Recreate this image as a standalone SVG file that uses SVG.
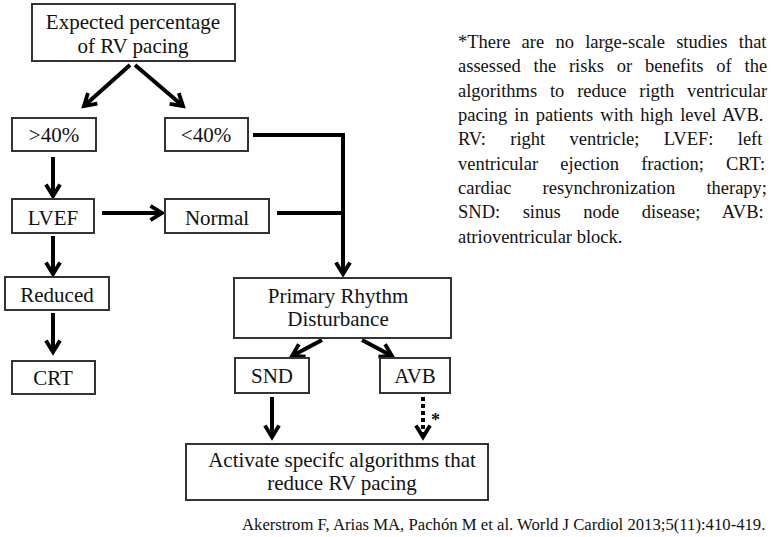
<svg xmlns="http://www.w3.org/2000/svg" width="771" height="537" viewBox="0 0 771 537">
<style>
.box{fill:#fff;stroke:#333;stroke-width:2}
.t{font-family:Liberation Serif, Times New Roman, serif;font-size:21px;fill:#111;text-anchor:middle}
.n{font-family:Liberation Serif, Times New Roman, serif;font-size:18.5px;fill:#111}
.c{stroke:#000;stroke-width:4;fill:none}
.d{stroke:#000;stroke-width:4;fill:none;stroke-dasharray:4 3}
</style>
<defs>
<marker id="ah" viewBox="0 0 14 14" refX="11" refY="7" markerWidth="18" markerHeight="18" markerUnits="userSpaceOnUse" orient="auto">
<path d="M2,1.5 L11,7 L2,12.5" fill="none" stroke="#000" stroke-width="3" stroke-linejoin="miter"/>
</marker>
</defs>
<rect width="771" height="537" fill="#fff"/>
<g id="connectors">
<line class="c" x1="130" y1="65" x2="84" y2="106" marker-end="url(#ah)"/>
<line class="c" x1="135" y1="65" x2="183" y2="106" marker-end="url(#ah)"/>
<line class="c" x1="53" y1="157" x2="53" y2="196" marker-end="url(#ah)"/>
<line class="c" x1="102" y1="213" x2="162" y2="213" marker-end="url(#ah)"/>
<line class="c" x1="53" y1="236" x2="53" y2="274" marker-end="url(#ah)"/>
<line class="c" x1="53" y1="313" x2="53" y2="352" marker-end="url(#ah)"/>
<path class="c" d="M253,135 H343 V274" marker-end="url(#ah)"/>
<path class="c" d="M277,213 H343"/>
<line class="c" x1="322" y1="340" x2="292" y2="356" marker-end="url(#ah)"/>
<line class="c" x1="362" y1="340" x2="392" y2="356" marker-end="url(#ah)"/>
<line class="c" x1="272" y1="397" x2="272" y2="437" marker-end="url(#ah)"/>
<line class="d" x1="423" y1="397" x2="423" y2="437" marker-end="url(#ah)"/>
<text x="431" y="426" font-family="Liberation Serif, serif" font-size="18" font-weight="bold" fill="#111">*</text>
</g>
<g id="expected">
<rect class="box" x="32" y="4" width="203" height="57"/>
<text class="t" x="133" y="29">Expected percentage</text>
<text class="t" x="133" y="53">of RV pacing</text>
</g>
<g id="gt40">
<rect class="box" x="12" y="118" width="84" height="33"/>
<text class="t" x="54" y="142">&gt;40%</text>
</g>
<g id="lt40">
<rect class="box" x="165" y="118" width="83" height="33"/>
<text class="t" x="206" y="142">&lt;40%</text>
</g>
<g id="lvef">
<rect class="box" x="12" y="199" width="82" height="34"/>
<text class="t" x="53" y="225">LVEF</text>
</g>
<g id="normal">
<rect class="box" x="165" y="199" width="104" height="34"/>
<text class="t" x="217" y="225">Normal</text>
</g>
<g id="reduced">
<rect class="box" x="5" y="277" width="104" height="33"/>
<text class="t" x="57" y="302">Reduced</text>
</g>
<g id="crt">
<rect class="box" x="12" y="361" width="83" height="33"/>
<text class="t" x="53" y="385">CRT</text>
</g>
<g id="primary">
<rect class="box" x="234" y="278" width="217" height="60"/>
<text class="t" x="338" y="303">Primary Rhythm</text>
<text class="t" x="338" y="326">Disturbance</text>
</g>
<g id="snd">
<rect class="box" x="235" y="358" width="74" height="35"/>
<text class="t" x="272" y="383">SND</text>
</g>
<g id="avb">
<rect class="box" x="380" y="358" width="70" height="35"/>
<text class="t" x="415" y="383">AVB</text>
</g>
<g id="activate">
<rect class="box" x="186" y="444" width="302" height="56"/>
<text class="t" x="342" y="467">Activate specifc algorithms that</text>
<text class="t" x="342" y="490">reduce RV pacing</text>
</g>
<g id="note">
<text class="n" x="458" y="48" word-spacing="6.6">*There are no large-scale studies that</text>
<text class="n" x="458" y="72.3" word-spacing="8.2">assessed the risks or benefits of the</text>
<text class="n" x="458" y="96.6" word-spacing="8.2">algorithms to reduce rigth ventricular</text>
<text class="n" x="458" y="121" word-spacing="2.4">pacing in patients with high level AVB.</text>
<text class="n" x="458" y="145.3" word-spacing="19.7">RV: right ventricle; LVEF: left</text>
<text class="n" x="458" y="169.6" word-spacing="17.6">ventricular ejection fraction; CRT:</text>
<text class="n" x="458" y="194" word-spacing="26.6">cardiac resynchronization therapy;</text>
<text class="n" x="458" y="218.3" word-spacing="17.9">SND: sinus node disease; AVB:</text>
<text class="n" x="458" y="242.6">atrioventricular block.</text>
</g>
<g id="citation">
<text x="242" y="530" font-family="Liberation Serif, Times New Roman, serif" font-size="16.7" fill="#111">Akerstrom F, Arias MA, Pachón M et al. World J Cardiol 2013;5(11):410-419.</text>
</g>
</svg>
